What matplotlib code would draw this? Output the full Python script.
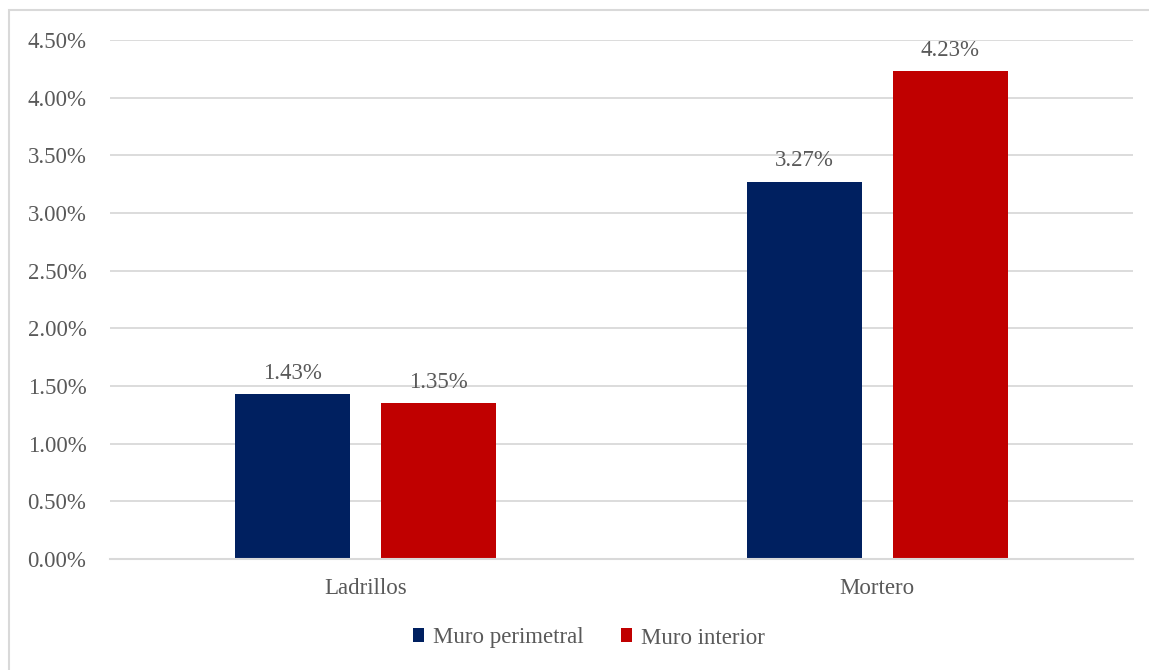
import matplotlib
matplotlib.use("Agg")
import matplotlib.pyplot as plt
from matplotlib.patches import Rectangle
from matplotlib.ticker import FuncFormatter
import numpy as np

categories = ["Ladrillos", "Mortero"]
series_names = ["Muro perimetral", "Muro interior"]
perimetral = [1.43, 3.27]
interior = [1.35, 4.23]
y_ticks = [0.0, 0.5, 1.0, 1.5, 2.0, 2.5, 3.0, 3.5, 4.0, 4.5]

colors = ["#002060", "#C00000"]
text_color = "#595959"
grid_color = "#D9D9D9"
FS = 16.5

plt.rcParams['font.family'] = ['Liberation Serif', 'DejaVu Serif']

W, H = 1149, 670
fig = plt.figure(figsize=(W / 100, H / 100), dpi=100)
ax = fig.add_axes([110 / W, 1 - 559 / H, (1133 - 110) / W, (559 - 40) / H])

x = np.arange(len(categories))
bw = 0.225
off = bw / 2 + 0.03
b1 = ax.bar(x - off, perimetral, bw, color=colors[0], label=series_names[0], zorder=3)
b2 = ax.bar(x + off, interior, bw, color=colors[1], label=series_names[1], zorder=3)

for bars, vals in ((b1, perimetral), (b2, interior)):
    for r, v in zip(bars, vals):
        ax.annotate(f"{v:.2f}%", (r.get_x() + r.get_width() / 2, v),
                    xytext=(0, 7.5), textcoords="offset points",
                    ha="center", va="bottom", fontsize=FS, color=text_color)

ax.set_xlim(-0.5, 1.5)
ax.set_ylim(0, 4.5)
ax.set_yticks(y_ticks)
ax.yaxis.set_major_formatter(FuncFormatter(lambda v, p: f"{v:.2f}%"))
ax.set_xticks(x)
ax.set_xticklabels(categories)
ax.tick_params(axis="both", length=0, labelsize=FS, labelcolor=text_color)
ax.tick_params(axis="y", pad=17)
ax.tick_params(axis="x", pad=14)
ax.grid(axis="y", color=grid_color, linewidth=1.3, zorder=0)
for s in ["top", "right", "left"]:
    ax.spines[s].set_visible(False)
ax.spines["bottom"].set_color(grid_color)
ax.spines["bottom"].set_linewidth(1.5)
ax.spines["bottom"].set_zorder(4)

leg = fig.legend(handles=[b1, b2], labels=series_names, loc="center",
                 bbox_to_anchor=(589 / W, 1 - 638 / H), ncol=2, frameon=False,
                 fontsize=FS, handlelength=0.5, handleheight=0.55,
                 handletextpad=0.4, columnspacing=1.6)
for t in leg.get_texts():
    t.set_color(text_color)

fig.patches.append(Rectangle((9 / W, -0.1), 1.2, 1 - 10 / H + 0.1,
                             transform=fig.transFigure, fill=False,
                             edgecolor=grid_color, linewidth=1.5))

fig.savefig("out.png", dpi=100, facecolor="white")
